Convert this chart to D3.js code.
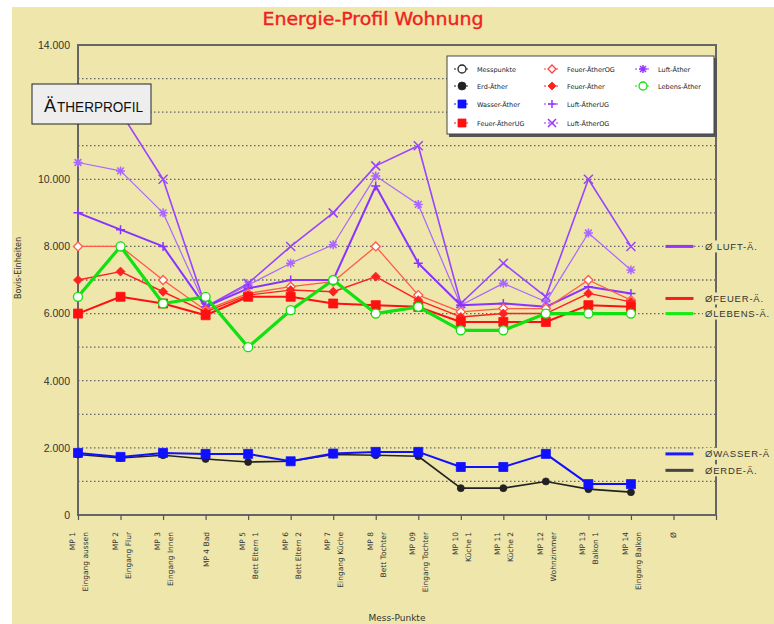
<!DOCTYPE html>
<html><head><meta charset="utf-8">
<script src="https://cdn.jsdelivr.net/npm/d3@7"></script>
<style>
html,body{margin:0;padding:0;background:#fff;}
svg{display:block;}
</style></head>
<body>
<svg id="c" width="774" height="624"></svg>
<script>
// ---------- DATA ----------
const catLine1 = ["MP 1","MP 2","MP 3","MP 4 Bad","MP 5","MP 6","MP 7","MP 8","MP 09","MP 10","MP 11","MP 12","MP 13","MP 14","Ø"];
const catLine2 = ["Eingang aussen","Eingang Flur","Eingang Innen","","Bett Eltern 1","Bett Eltern 2","Eingang Küche","Bett Tochter","Eingang Tochter","Küche 1","Küche 2","Wohnzimmer","Balkon 1","Eingang Balkon",""];

const luftAetherOG  = [12500,12000,10000,6200,6900,8000,9000,10400,11000,6300,7500,6500,10000,8000];
const luftAether    = [10500,10250,9000,6200,6850,7500,8050,10100,9250,6250,6900,6350,8400,7300];
const luftAetherUG  = [9000,8500,8000,6200,6750,7000,7000,9800,7500,6250,6300,6200,6800,6600];
const feuerAetherOG = [8000,8000,7000,6100,6600,6800,6950,8000,6550,6050,6150,6150,7000,6400];
const feuerAether   = [7000,7250,6650,6050,6550,6700,6650,7100,6400,5900,6000,6000,6600,6350];
const feuerAetherUG = [6000,6500,6300,5950,6500,6500,6300,6250,6200,5750,5750,5750,6250,6200];
const lebensAether  = [6500,8000,6300,6500,5000,6100,7000,6000,6200,5500,5500,6000,6000,6000];
const wasserAether  = [1850,1730,1850,1820,1820,1600,1830,1880,1880,1430,1430,1820,920,920];
const erdAether     = [1800,1700,1780,1670,1580,1600,1800,1780,1750,800,800,1000,770,680];

const avgLabels = ["Ø LUFT-Ä.","ØFEUER-Ä.","ØLEBENS-Ä.","ØWASSER-Ä","ØERDE-Ä."];
const avgValues = [8000,6450,6000,1820,1330];
const avgColors = ["#9933ff","#ff1a1a","#11ee11","#1a1aff","#444444"];

// 12.000 is hidden behind the ÄTHERPROFIL box in the reference
const yTickValues = [0,2000,4000,6000,8000,10000,14000];
const gridValues = [1000,2000,3000,4000,5000,6000,7000,8000,9000,10000,11000,12000,13000];

const legendNames = ["Messpunkte","Erd-Äther","Wasser-Äther","Feuer-ÄtherUG","Feuer-ÄtherOG","Feuer-Äther","Luft-ÄtherUG","Luft-ÄtherOG","Luft-Äther","Lebens-Äther"];

// series styles (drawing order)
const series = [
  {name:"Erd-Äther", values:erdAether, color:"#222222", width:1.6, sym:"circleFilled", size:3.5},
  {name:"Wasser-Äther", values:wasserAether, color:"#1010ff", width:2, sym:"square", size:4.5},
  {name:"Luft-Äther", values:luftAether, color:"#aa66ff", width:1.2, sym:"asterisk", size:4.5},
  {name:"Luft-ÄtherOG", values:luftAetherOG, color:"#9944ff", width:1.6, sym:"x", size:4.5},
  {name:"Luft-ÄtherUG", values:luftAetherUG, color:"#8833ff", width:2, sym:"plus", size:4.5},
  {name:"Feuer-ÄtherOG", values:feuerAetherOG, color:"#ff5a4a", width:1.3, sym:"diamondOpen", size:4.5},
  {name:"Feuer-Äther", values:feuerAether, color:"#ff2020", width:1.4, sym:"diamond", size:4.5},
  {name:"Feuer-ÄtherUG", values:feuerAetherUG, color:"#ff1010", width:2, sym:"square", size:4.5},
  {name:"Lebens-Äther", values:lebensAether, color:"#11e011", width:3.2, sym:"circleOpen", size:4.5}
];
const legendStyle = {
  "Messpunkte":{color:"#222",sym:"circleOpen"},
  "Erd-Äther":{color:"#222",sym:"circleFilled"},
  "Wasser-Äther":{color:"#1010ff",sym:"square"},
  "Feuer-ÄtherUG":{color:"#ff1010",sym:"square"},
  "Feuer-ÄtherOG":{color:"#ff4040",sym:"diamondOpen"},
  "Feuer-Äther":{color:"#ff2020",sym:"diamond"},
  "Luft-ÄtherUG":{color:"#9933ff",sym:"plus"},
  "Luft-ÄtherOG":{color:"#9933ff",sym:"x"},
  "Luft-Äther":{color:"#9933ff",sym:"asterisk"},
  "Lebens-Äther":{color:"#11e011",sym:"circleOpen"}
};

// ---------- DRAW ----------
const svg = d3.select("#c");
const bg = "#eee6ab";
svg.append("rect").attr("x",12).attr("y",7).attr("width",762).attr("height",617).attr("fill",bg);

const x = d3.scaleLinear().domain([0,15]).range([78,716]);
const y = d3.scaleLinear().domain([0,14000]).range([515,45]);
const fmt = d3.formatLocale({decimal:",",thousands:".",grouping:[3],currency:["","€"]}).format(",");

// title
svg.append("text").attr("x",373).attr("y",25).attr("text-anchor","middle")
  .attr("font-family","'Comic Sans MS','DejaVu Sans',sans-serif").attr("font-size",18)
  .attr("fill","#ee2222").attr("stroke","#ee2222").attr("stroke-width",0.4)
  .attr("textLength",221).attr("lengthAdjust","spacingAndGlyphs")
  .text("Energie-Profil Wohnung");

// gridlines
svg.append("g").selectAll("line").data(gridValues).join("line")
  .attr("x1",x(0)).attr("x2",x(15)).attr("y1",d=>y(d)).attr("y2",d=>y(d))
  .attr("stroke","#666").attr("stroke-width",1.3).attr("stroke-dasharray","1.5,2.5");

// frame
const frame = svg.append("g").attr("stroke","#666").attr("stroke-width",2).attr("fill","none");
frame.append("path").attr("d",`M${x(0)},${y(0)}V${y(14000)}H${x(15)}V${y(0)}Z`);

// x axis ticks
const xAxis = d3.axisBottom(x).tickValues(d3.range(0,16)).tickSize(5).tickFormat("");
const gx = svg.append("g").attr("transform",`translate(0,${y(0)})`).call(xAxis);
gx.select(".domain").remove();
gx.selectAll(".tick line").attr("stroke","#555").attr("stroke-width",1.2);

// y axis labels
const yAxis = d3.axisLeft(y).tickValues(yTickValues).tickSize(0).tickPadding(8).tickFormat(d=>fmt(d));
const gy = svg.append("g").attr("transform",`translate(${x(0)},0)`).call(yAxis);
gy.select(".domain").remove();
gy.selectAll("text").attr("font-family","'Liberation Sans',Arial,sans-serif").attr("font-size",10.5).attr("fill","#333");

// category labels (rotated)
const cat = svg.append("g").attr("font-family","'DejaVu Sans',sans-serif").attr("font-size",7.5).attr("fill","#333");
catLine1.forEach((l1,i)=>{
  const l2 = catLine2[i];
  const cx = x(i);
  if(l2){
    cat.append("text").attr("transform",`translate(${cx-3},532) rotate(-90)`).attr("text-anchor","end").text(l1);
    cat.append("text").attr("transform",`translate(${cx+10},532) rotate(-90)`).attr("text-anchor","end").text(l2);
  } else {
    cat.append("text").attr("transform",`translate(${cx+3},532) rotate(-90)`).attr("text-anchor","end").text(l1);
  }
});

// axis titles
svg.append("text").attr("transform","translate(21,268) rotate(-90)").attr("text-anchor","middle")
  .attr("font-family","'DejaVu Sans',sans-serif").attr("font-size",8).attr("fill","#333").text("Bovis-Einheiten");
svg.append("text").attr("x",397).attr("y",621).attr("text-anchor","middle")
  .attr("font-family","'DejaVu Sans',sans-serif").attr("font-size",9).attr("fill","#333").text("Mess-Punkte");

// symbol helper
function symPath(sym,s){
  switch(sym){
    case "plus": return `M${-s},0H${s}M0,${-s}V${s}`;
    case "x": return `M${-s},${-s}L${s},${s}M${-s},${s}L${s},${-s}`;
    case "asterisk": return `M${-s},0H${s}M0,${-s}V${s}M${-s*0.75},${-s*0.75}L${s*0.75},${s*0.75}M${-s*0.75},${s*0.75}L${s*0.75},${-s*0.75}`;
    case "square": return `M${-s},${-s}H${s}V${s}H${-s}Z`;
    case "diamond": case "diamondOpen": return `M0,${-s}L${s},0L0,${s}L${-s},0Z`;
    default: return d3.symbol(d3.symbolCircle, Math.PI*s*s)();
  }
}
function styleSym(sel,sym,color){
  if(sym==="plus"||sym==="x"||sym==="asterisk"){
    sel.attr("fill","none").attr("stroke",color).attr("stroke-width",1.5);
  } else if(sym==="circleOpen"||sym==="diamondOpen"){
    sel.attr("fill","#fff").attr("stroke",color).attr("stroke-width",1.3);
  } else {
    sel.attr("fill",color).attr("stroke",color).attr("stroke-width",0.8);
  }
}

// average segments at Ø column
const avgG = svg.append("g");
avgValues.forEach((v,i)=>{
  avgG.append("line").attr("x1",x(14)-8).attr("x2",x(14)+20).attr("y1",y(v)).attr("y2",y(v))
    .attr("stroke",avgColors[i]).attr("stroke-width",3);
});

// series lines and markers
const line = d3.line().x((d,i)=>x(i)).y(d=>y(d));
series.forEach(s=>{
  const g = svg.append("g");
  g.append("path").datum(s.values).attr("d",line).attr("fill","none")
    .attr("stroke",s.color).attr("stroke-width",s.width).attr("stroke-linejoin","round");
  g.selectAll("path.m").data(s.values).join("path").attr("class","m")
    .attr("transform",(d,i)=>`translate(${x(i)},${y(d)})`)
    .attr("d",symPath(s.sym,s.size))
    .call(sel=>styleSym(sel,s.sym,s.color));
});

// average labels (with background to interrupt right axis)
const avgTextG = svg.append("g").attr("font-family","'Liberation Sans',Arial,sans-serif").attr("font-size",9.5).attr("fill","#333");
avgLabels.forEach((t,i)=>{
  const ty = y(avgValues[i]);
  avgTextG.append("rect").attr("x",703).attr("y",ty-6).attr("width",71).attr("height",12).attr("fill",bg);
  avgTextG.append("text").attr("x",705).attr("y",ty+3.5).attr("letter-spacing",0.8).text(t);
});

// legend
const lg = svg.append("g");
lg.append("rect").attr("x",449).attr("y",58).attr("width",268).attr("height",79).attr("fill","#555");
lg.append("rect").attr("x",447).attr("y",56).attr("width",267).attr("height",78).attr("fill","#fff").attr("stroke","#444").attr("stroke-width",1);
const colX = [462,552,643];
const rowY = [69,86,104,123];
legendNames.forEach((n,i)=>{
  const col = Math.floor(i/4), row = i%4;
  const cx = colX[col], cy = rowY[row];
  const st = legendStyle[n];
  lg.append("line").attr("x1",cx-8).attr("x2",cx+8).attr("y1",cy).attr("y2",cy)
    .attr("stroke",st.color).attr("stroke-width",1.2).attr("stroke-dasharray","2,2");
  lg.append("path").attr("transform",`translate(${cx},${cy})`).attr("d",symPath(st.sym,4))
    .call(sel=>styleSym(sel,st.sym,st.color));
  lg.append("text").attr("x",cx+15).attr("y",cy+2.5).attr("font-family","'DejaVu Sans',sans-serif")
    .attr("font-size",6.5).attr("fill","#222").text(n);
});

// ÄTHERPROFIL box
const bx = svg.append("g").attr("font-family","'Liberation Sans',Arial,sans-serif").attr("fill","#111");
bx.append("rect").attr("x",32).attr("y",84).attr("width",119).attr("height",40).attr("fill","#eeeeee").attr("stroke","#222").attr("stroke-width",1);
bx.append("text").attr("x",44).attr("y",112).attr("font-size",18).text("Ä");
bx.append("text").attr("x",57).attr("y",112).attr("font-size",14).attr("textLength",86).attr("lengthAdjust","spacingAndGlyphs").text("THERPROFIL");
</script>
</body></html>
